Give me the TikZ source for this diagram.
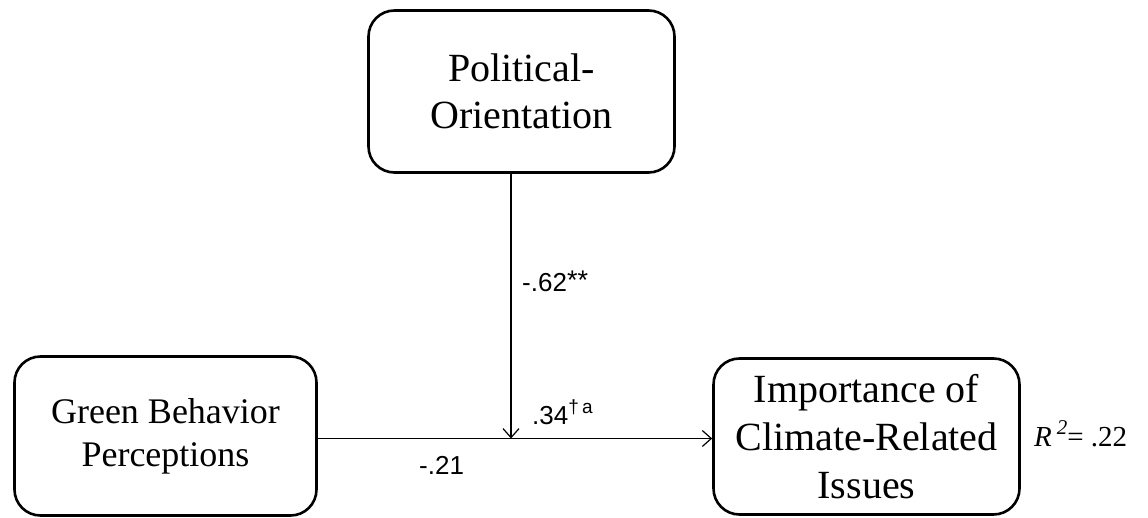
\documentclass[tikz,border=0pt]{standalone}
\usepackage{fontspec}
\setmainfont{Liberation Serif}
\setsansfont{Liberation Sans}
\usetikzlibrary{arrows.meta}
\newcommand{\mysup}[2][19]{\raisebox{0.42em}{\fontsize{#1}{20}\selectfont #2}}
\begin{document}
\begin{tikzpicture}[x=1pt,y=-1pt,
  box/.style={draw, line width=2.6pt, rounded corners=26pt, align=center, inner sep=0pt},
  conn/.style={line width=1.4pt, -{Straight Barb[length=9pt,width=16pt,line width=1.2pt]}},
  lab/.style={font=\sffamily\fontsize{26}{28}\selectfont, anchor=base west, inner sep=0pt}]
\useasboundingbox (0,0) rectangle (1148,518);
\node[box, minimum width=306pt, minimum height=162pt, font=\fontsize{40}{47}\selectfont] (pol) at (521.5,91.5) {Political-\\Orientation};
\node[box, minimum width=302pt, minimum height=159pt, font=\fontsize{36}{43}\selectfont] (green) at (165.5,436) {Green Behavior\\Perceptions};
\node[box, minimum width=306pt, minimum height=156pt, font=\fontsize{40}{48}\selectfont] (imp) at (866.5,436.5) {Importance of\\Climate-Related\\Issues};
\coordinate (j) at (511,438.5);
\draw[line width=1.4pt] (green.east |- j) -- (j);
\draw[conn] (j) -- (imp.west |- j);
\draw[conn] (pol.south -| j) -- (j);
\node[lab] (l1) at (522,292) {-.62\raisebox{0.1em}{\fontsize{27}{28}\selectfont **}};
\node[lab] (l2) at (532,424) {.34\mysup{†\,a}};
\node[lab] (l3) at (419,474) {-.21};
\node[anchor=base west, inner sep=0pt, font=\fontsize{29}{32}\selectfont] (r2) at (1034,446) {\textit{R}\,\raisebox{0.4em}{\fontsize{21}{22}\selectfont\textit{2}}= .22};
\end{tikzpicture}
\end{document}
